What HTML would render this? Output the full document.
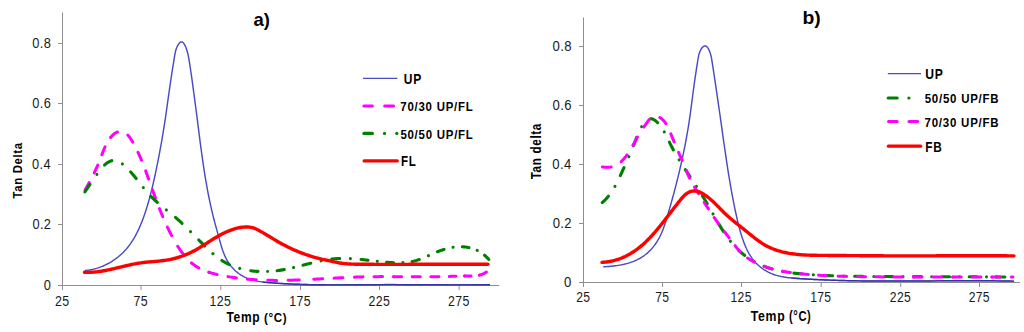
<!DOCTYPE html>
<html><head><meta charset="utf-8"><style>
html,body{margin:0;padding:0;background:#fff;width:1024px;height:332px;overflow:hidden}
svg{display:block}
</style></head><body>
<svg width="1024" height="332" viewBox="0 0 1024 332">
<path d="M62.5,12.5 V285.5 H499.2" fill="none" stroke="#8E8E8E" stroke-width="1"/>
<path d="M58.0,285.5 H62.5" stroke="#8E8E8E" stroke-width="1"/>
<path d="M58.0,224.5 H62.5" stroke="#8E8E8E" stroke-width="1"/>
<path d="M58.0,164.5 H62.5" stroke="#8E8E8E" stroke-width="1"/>
<path d="M58.0,103.5 H62.5" stroke="#8E8E8E" stroke-width="1"/>
<path d="M58.0,43.5 H62.5" stroke="#8E8E8E" stroke-width="1"/>
<path d="M62.5,285.5 V290.0" stroke="#8E8E8E" stroke-width="1"/>
<path d="M141.0,285.5 V290.0" stroke="#8E8E8E" stroke-width="1"/>
<path d="M220.8,285.5 V290.0" stroke="#8E8E8E" stroke-width="1"/>
<path d="M300.5,285.5 V290.0" stroke="#8E8E8E" stroke-width="1"/>
<path d="M379.5,285.5 V290.0" stroke="#8E8E8E" stroke-width="1"/>
<path d="M459.1,285.5 V290.0" stroke="#8E8E8E" stroke-width="1"/>
<path d="M583.5,17.5 V282.5 H1020.0" fill="none" stroke="#8E8E8E" stroke-width="1"/>
<path d="M579.0,282.5 H583.5" stroke="#8E8E8E" stroke-width="1"/>
<path d="M579.0,223.5 H583.5" stroke="#8E8E8E" stroke-width="1"/>
<path d="M579.0,164.5 H583.5" stroke="#8E8E8E" stroke-width="1"/>
<path d="M579.0,105.5 H583.5" stroke="#8E8E8E" stroke-width="1"/>
<path d="M579.0,46.5 H583.5" stroke="#8E8E8E" stroke-width="1"/>
<path d="M583.5,282.5 V287.0" stroke="#8E8E8E" stroke-width="1"/>
<path d="M662.5,282.5 V287.0" stroke="#8E8E8E" stroke-width="1"/>
<path d="M741.5,282.5 V287.0" stroke="#8E8E8E" stroke-width="1"/>
<path d="M821.2,282.5 V287.0" stroke="#8E8E8E" stroke-width="1"/>
<path d="M900.7,282.5 V287.0" stroke="#8E8E8E" stroke-width="1"/>
<path d="M979.5,282.5 V287.0" stroke="#8E8E8E" stroke-width="1"/>
<path d="M84.82,270.59 L86.32,270.45 L87.81,270.26 L89.29,270.04 L90.78,269.77 L92.25,269.47 L93.71,269.12 L95.17,268.74 L96.61,268.33 L98.05,267.88 L99.47,267.39 L100.88,266.87 L102.28,266.31 L103.66,265.72 L105.03,265.10 L106.39,264.45 L107.72,263.76 L109.05,263.05 L110.35,262.30 L111.64,261.52 L112.91,260.71 L114.16,259.88 L115.39,259.01 L116.60,258.12 L117.79,257.20 L118.95,256.25 L120.10,255.27 L121.22,254.27 L122.32,253.24 L123.39,252.19 L124.43,251.11 L125.45,250.00 L126.45,248.87 L127.41,247.72 L128.35,246.55 L129.27,245.35 L130.16,244.14 L131.02,242.91 L131.86,241.66 L132.68,240.40 L133.47,239.12 L134.24,237.83 L134.98,236.52 L135.71,235.20 L136.41,233.88 L137.10,232.54 L137.77,231.19 L138.41,229.83 L139.04,228.47 L139.66,227.09 L140.25,225.71 L140.84,224.32 L141.40,222.93 L141.96,221.53 L142.50,220.13 L143.02,218.72 L143.54,217.31 L144.05,215.89 L144.54,214.47 L145.03,213.05 L145.50,211.62 L145.97,210.19 L146.43,208.76 L146.88,207.33 L147.32,205.89 L147.75,204.45 L148.17,203.00 L148.59,201.56 L149.00,200.11 L149.40,198.66 L149.79,197.21 L150.18,195.76 L150.56,194.30 L150.94,192.85 L151.30,191.39 L151.67,189.93 L152.02,188.47 L152.37,187.00 L152.72,185.54 L153.06,184.08 L153.40,182.61 L153.73,181.14 L154.06,179.68 L154.39,178.21 L154.71,176.74 L155.03,175.27 L155.34,173.80 L155.66,172.33 L155.97,170.86 L156.28,169.38 L156.58,167.91 L156.88,166.44 L157.18,164.97 L157.48,163.49 L157.78,162.02 L158.07,160.54 L158.36,159.07 L158.65,157.59 L158.93,156.11 L159.21,154.64 L159.49,153.16 L159.77,151.68 L160.04,150.20 L160.32,148.72 L160.59,147.24 L160.85,145.76 L161.12,144.28 L161.38,142.80 L161.64,141.32 L161.90,139.84 L162.15,138.35 L162.40,136.87 L162.65,135.39 L162.90,133.91 L163.14,132.42 L163.39,130.94 L163.63,129.45 L163.86,127.97 L164.10,126.48 L164.33,125.00 L164.56,123.51 L164.79,122.02 L165.02,120.54 L165.24,119.05 L165.46,117.56 L165.68,116.07 L165.90,114.59 L166.11,113.10 L166.33,111.61 L166.54,110.12 L166.75,108.63 L166.96,107.14 L167.17,105.65 L167.38,104.16 L167.59,102.67 L167.79,101.18 L168.00,99.69 L168.21,98.21 L168.42,96.72 L168.63,95.23 L168.83,93.74 L169.04,92.25 L169.25,90.76 L169.47,89.27 L169.68,87.78 L169.89,86.29 L170.11,84.80 L170.33,83.32 L170.54,81.83 L170.77,80.34 L170.99,78.85 L171.22,77.37 L171.44,75.88 L171.68,74.39 L171.91,72.91 L172.14,71.42 L172.38,69.94 L172.61,68.45 L172.85,66.97 L173.09,65.48 L173.33,64.00 L173.56,62.51 L173.80,61.03 L174.03,59.54 L174.26,58.05 L174.50,56.57 L174.74,55.08 L175.02,53.61 L175.33,52.13 L175.69,50.68 L176.12,49.23 L176.63,47.82 L177.24,46.44 L177.95,45.12 L178.77,43.86 L179.75,42.72 L180.99,41.89 L182.43,42.08 L183.55,43.08 L184.40,44.32 L185.10,45.65 L185.72,47.02 L186.26,48.42 L186.76,49.84 L187.20,51.28 L187.60,52.73 L187.95,54.19 L188.26,55.66 L188.55,57.14 L188.81,58.62 L189.07,60.10 L189.32,61.58 L189.56,63.07 L189.80,64.55 L190.03,66.04 L190.26,67.52 L190.48,69.01 L190.70,70.50 L190.92,71.99 L191.13,73.48 L191.34,74.96 L191.55,76.45 L191.76,77.94 L191.97,79.43 L192.17,80.92 L192.38,82.41 L192.58,83.90 L192.79,85.39 L192.99,86.88 L193.19,88.37 L193.40,89.86 L193.60,91.35 L193.80,92.84 L194.00,94.33 L194.20,95.83 L194.40,97.32 L194.60,98.81 L194.79,100.30 L194.99,101.79 L195.19,103.28 L195.38,104.77 L195.58,106.26 L195.77,107.75 L195.97,109.24 L196.16,110.74 L196.35,112.23 L196.55,113.72 L196.74,115.21 L196.93,116.70 L197.12,118.19 L197.31,119.69 L197.50,121.18 L197.69,122.67 L197.88,124.16 L198.07,125.65 L198.26,127.15 L198.45,128.64 L198.64,130.13 L198.83,131.62 L199.02,133.11 L199.21,134.60 L199.40,136.10 L199.59,137.59 L199.79,139.08 L199.98,140.57 L200.17,142.06 L200.37,143.55 L200.56,145.05 L200.76,146.54 L200.96,148.03 L201.16,149.52 L201.36,151.01 L201.56,152.50 L201.77,153.99 L201.97,155.48 L202.18,156.97 L202.39,158.46 L202.60,159.95 L202.82,161.43 L203.04,162.92 L203.25,164.41 L203.48,165.90 L203.70,167.38 L203.93,168.87 L204.16,170.36 L204.39,171.84 L204.62,173.33 L204.86,174.81 L205.10,176.30 L205.35,177.78 L205.59,179.27 L205.84,180.75 L206.10,182.23 L206.36,183.71 L206.62,185.19 L206.88,186.67 L207.15,188.15 L207.43,189.63 L207.70,191.11 L207.99,192.59 L208.27,194.06 L208.56,195.54 L208.86,197.01 L209.16,198.49 L209.46,199.96 L209.77,201.43 L210.08,202.90 L210.40,204.37 L210.73,205.84 L211.05,207.31 L211.39,208.78 L211.73,210.24 L212.07,211.71 L212.42,213.17 L212.78,214.63 L213.14,216.09 L213.51,217.55 L213.88,219.00 L214.26,220.46 L214.64,221.91 L215.03,223.37 L215.42,224.82 L215.81,226.27 L216.20,227.72 L216.60,229.17 L217.00,230.62 L217.40,232.07 L217.80,233.52 L218.20,234.97 L218.60,236.42 L219.00,237.87 L219.40,239.32 L219.80,240.77 L220.20,242.22 L220.61,243.67 L221.03,245.11 L221.47,246.55 L221.91,247.99 L222.38,249.42 L222.86,250.84 L223.38,252.26 L223.92,253.66 L224.49,255.05 L225.09,256.43 L225.73,257.79 L226.41,259.13 L227.13,260.45 L227.90,261.74 L228.71,263.01 L229.57,264.25 L230.47,265.45 L231.42,266.62 L232.40,267.75 L233.43,268.85 L234.49,269.92 L235.59,270.94 L236.73,271.93 L237.90,272.87 L239.10,273.78 L240.33,274.64 L241.60,275.45 L242.89,276.22 L244.21,276.93 L245.56,277.60 L246.94,278.21 L248.33,278.77 L249.75,279.28 L251.18,279.73 L252.63,280.15 L254.08,280.52 L255.55,280.85 L257.03,281.15 L258.51,281.41 L259.99,281.64 L261.48,281.85 L262.97,282.04 L264.47,282.21 L265.96,282.36 L267.46,282.50 L268.96,282.63 L270.46,282.75 L271.96,282.87 L273.46,282.98 L274.96,283.09 L276.46,283.20 L277.96,283.30 L279.46,283.40 L280.96,283.49 L282.46,283.58 L283.96,283.67 L285.46,283.75 L286.97,283.83 L288.47,283.91 L289.97,283.98 L291.47,284.05 L292.98,284.12 L294.48,284.18 L295.98,284.24 L297.48,284.29 L298.99,284.34 L300.49,284.39 L301.99,284.44 L303.50,284.48 L305.00,284.53 L306.50,284.56 L308.01,284.60 L309.51,284.63 L311.01,284.66 L312.52,284.69 L314.02,284.72 L315.53,284.74 L317.03,284.76 L318.53,284.78 L320.04,284.80 L321.54,284.81 L323.04,284.83 L324.55,284.84 L326.05,284.85 L327.56,284.85 L329.06,284.86 L330.56,284.87 L332.07,284.87 L333.57,284.87 L335.08,284.87 L336.58,284.87 L338.08,284.87 L339.59,284.86 L341.09,284.86 L342.60,284.86 L344.10,284.85 L345.60,284.84 L347.11,284.84 L348.61,284.83 L350.11,284.82 L351.62,284.81 L353.12,284.80 L354.63,284.79 L356.13,284.78 L357.63,284.77 L359.14,284.76 L360.64,284.75 L362.15,284.74 L363.65,284.72 L365.15,284.71 L366.66,284.70 L368.16,284.69 L369.67,284.68 L371.17,284.67 L372.67,284.67 L374.18,284.66 L375.68,284.65 L377.19,284.64 L378.69,284.64 L380.19,284.63 L381.70,284.63 L383.20,284.63 L384.70,284.62 L386.21,284.62 L387.71,284.62 L389.22,284.62 L390.72,284.62 L392.22,284.62 L393.73,284.62 L395.23,284.62 L396.74,284.63 L398.24,284.63 L399.74,284.63 L401.25,284.64 L402.75,284.64 L404.26,284.65 L405.76,284.65 L407.26,284.66 L408.77,284.67 L410.27,284.67 L411.78,284.68 L413.28,284.69 L414.78,284.69 L416.29,284.70 L417.79,284.71 L419.29,284.72 L420.80,284.73 L422.30,284.73 L423.81,284.74 L425.31,284.75 L426.81,284.76 L428.32,284.76 L429.82,284.77 L431.33,284.78 L432.83,284.79 L434.33,284.80 L435.84,284.80 L437.34,284.81 L438.85,284.82 L440.35,284.82 L441.85,284.83 L443.36,284.83 L444.86,284.84 L446.37,284.84 L447.87,284.85 L449.37,284.85 L450.88,284.86 L452.38,284.86 L453.89,284.86 L455.39,284.86 L456.89,284.87 L458.40,284.87 L459.90,284.87 L461.40,284.87 L462.91,284.86 L464.41,284.86 L465.92,284.86 L467.42,284.86 L468.92,284.85 L470.43,284.85 L471.93,284.84 L473.44,284.83 L474.94,284.82 L476.44,284.81 L477.95,284.80 L479.45,284.79 L480.96,284.78 L482.46,284.77 L483.96,284.75 L485.47,284.74 L486.97,284.72 L488.47,284.70 L489.98,284.68" fill="none" stroke="#4A4AC6" stroke-width="1.45" stroke-linejoin="round"/>
<path d="M262.97,282.04 L264.47,282.21 L265.96,282.36 L267.46,282.50 L268.96,282.63 L270.46,282.75 L271.96,282.87 L273.46,282.98 L274.96,283.09 L276.46,283.20 L277.96,283.30 L279.46,283.40 L280.96,283.49 L282.46,283.58 L283.96,283.67 L285.46,283.75 L286.97,283.83 L288.47,283.91 L289.97,283.98 L291.47,284.05 L292.98,284.12 L294.48,284.18 L295.98,284.24 L297.48,284.29 L298.99,284.34 L300.49,284.39 L301.99,284.44 L303.50,284.48 L305.00,284.53 L306.50,284.56 L308.01,284.60 L309.51,284.63 L311.01,284.66 L312.52,284.69 L314.02,284.72 L315.53,284.74 L317.03,284.76 L318.53,284.78 L320.04,284.80 L321.54,284.81 L323.04,284.83 L324.55,284.84 L326.05,284.85 L327.56,284.85 L329.06,284.86 L330.56,284.87 L332.07,284.87 L333.57,284.87 L335.08,284.87 L336.58,284.87 L338.08,284.87 L339.59,284.86 L341.09,284.86 L342.60,284.86 L344.10,284.85 L345.60,284.84 L347.11,284.84 L348.61,284.83 L350.11,284.82 L351.62,284.81 L353.12,284.80 L354.63,284.79 L356.13,284.78 L357.63,284.77 L359.14,284.76 L360.64,284.75 L362.15,284.74 L363.65,284.72 L365.15,284.71 L366.66,284.70 L368.16,284.69 L369.67,284.68 L371.17,284.67 L372.67,284.67 L374.18,284.66 L375.68,284.65 L377.19,284.64 L378.69,284.64 L380.19,284.63 L381.70,284.63 L383.20,284.63 L384.70,284.62 L386.21,284.62 L387.71,284.62 L389.22,284.62 L390.72,284.62 L392.22,284.62 L393.73,284.62 L395.23,284.62 L396.74,284.63 L398.24,284.63 L399.74,284.63 L401.25,284.64 L402.75,284.64 L404.26,284.65 L405.76,284.65 L407.26,284.66 L408.77,284.67 L410.27,284.67 L411.78,284.68 L413.28,284.69 L414.78,284.69 L416.29,284.70 L417.79,284.71 L419.29,284.72 L420.80,284.73 L422.30,284.73 L423.81,284.74 L425.31,284.75 L426.81,284.76 L428.32,284.76 L429.82,284.77 L431.33,284.78 L432.83,284.79 L434.33,284.80 L435.84,284.80 L437.34,284.81 L438.85,284.82 L440.35,284.82 L441.85,284.83 L443.36,284.83 L444.86,284.84 L446.37,284.84 L447.87,284.85 L449.37,284.85 L450.88,284.86 L452.38,284.86 L453.89,284.86 L455.39,284.86 L456.89,284.87 L458.40,284.87 L459.90,284.87 L461.40,284.87 L462.91,284.86 L464.41,284.86 L465.92,284.86 L467.42,284.86 L468.92,284.85 L470.43,284.85 L471.93,284.84 L473.44,284.83 L474.94,284.82 L476.44,284.81 L477.95,284.80 L479.45,284.79 L480.96,284.78 L482.46,284.77 L483.96,284.75 L485.47,284.74 L486.97,284.72 L488.47,284.70 L489.98,284.68" fill="none" stroke="#2B2BA6" stroke-width="1.50" stroke-opacity="0.75"/>
<path d="M85.06,190.16 L85.79,188.84 L86.51,187.52 L87.24,186.20 L87.96,184.87 L88.68,183.55 L89.40,182.22 L90.11,180.89 L90.81,179.55 L91.51,178.22 L92.20,176.88 L92.89,175.53 L93.56,174.18 L94.23,172.83 L94.89,171.47 L95.53,170.11 L96.17,168.74 L96.79,167.37 L97.40,165.99 L98.00,164.60 L98.59,163.21 L99.16,161.82 L99.72,160.42 L100.26,159.01 L100.79,157.60 L101.32,156.19 L101.85,154.77 L102.38,153.36 L102.92,151.95 L103.48,150.55 L104.05,149.16 L104.65,147.77 L105.28,146.40 L105.93,145.04 L106.62,143.70 L107.35,142.38 L108.12,141.08 L108.93,139.81 L109.79,138.57 L110.71,137.37" fill="none" stroke="#FF00FF" stroke-width="3" stroke-linecap="round" stroke-linejoin="round" stroke-dasharray="8.55 11.06" stroke-dashoffset="0.00"/>
<path d="M110.71,137.37 L111.68,136.22 L112.72,135.13 L113.84,134.12 L115.05,133.22 L116.36,132.46 L117.75,131.90 L119.22,131.57 L120.73,131.50 L122.22,131.68 L123.67,132.12 L125.02,132.78 L126.26,133.63 L127.39,134.63 L128.42,135.74 L129.36,136.91 L130.24,138.14 L131.07,139.40 L131.86,140.68 L132.62,141.98 L133.37,143.29 L134.10,144.62 L134.81,145.94 L135.51,147.28 L136.20,148.62 L136.87,149.98 L137.53,151.33 L138.17,152.70 L138.80,154.06 L139.43,155.44 L140.04,156.82 L140.63,158.20 L141.22,159.59 L141.80,160.99 L142.37,162.38 L142.93,163.78 L143.48,165.19 L144.03,166.59 L144.57,168.00 L145.10,169.41 L145.63,170.83 L146.15,172.24 L146.67,173.66 L147.18,175.08 L147.70,176.49 L148.21,177.91 L148.72,179.33 L149.23,180.75 L149.74,182.17 L150.24,183.59 L150.75,185.01 L151.26,186.43 L151.77,187.85 L152.28,189.27 L152.79,190.69 L153.30,192.11 L153.82,193.53 L154.33,194.95 L154.85,196.36 L155.37,197.78 L155.89,199.19 L156.42,200.61 L156.95,202.02 L157.48,203.43 L158.02,204.84 L158.56,206.25 L159.11,207.65 L159.66,209.06 L160.22,210.46 L160.78,211.86 L161.35,213.26 L161.92,214.65 L162.50,216.04 L163.09,217.43 L163.68,218.82 L164.28,220.20 L164.89,221.58 L165.51,222.96 L166.13,224.34 L166.76,225.71 L167.40,227.07" fill="none" stroke="#FF00FF" stroke-width="3" stroke-linecap="round" stroke-linejoin="round" stroke-dasharray="8.77 11.34" stroke-dashoffset="0.00"/>
<path d="M167.40,227.07 L168.05,228.43 L168.70,229.79 L169.37,231.15 L170.04,232.50 L170.73,233.84 L171.42,235.18 L172.12,236.52 L172.83,237.85 L173.56,239.17 L174.29,240.49 L175.03,241.80 L175.79,243.10 L176.56,244.40 L177.35,245.69 L178.15,246.96 L178.97,248.23 L179.81,249.48 L180.67,250.73 L181.55,251.95 L182.45,253.16 L183.37,254.36 L184.31,255.53 L185.29,256.68 L186.28,257.82 L187.31,258.92 L188.36,260.00 L189.44,261.05 L190.55,262.08 L191.69,263.06" fill="none" stroke="#FF00FF" stroke-width="3" stroke-linecap="round" stroke-linejoin="round" stroke-dasharray="9.53 12.34" stroke-dashoffset="0.00"/>
<path d="M191.69,263.06 L192.86,264.01 L194.06,264.93 L195.29,265.80 L196.56,266.63 L197.85,267.41 L199.16,268.15 L200.50,268.84 L201.86,269.49 L203.24,270.11 L204.63,270.69 L206.04,271.23 L207.46,271.74 L208.89,272.22" fill="none" stroke="#FF00FF" stroke-width="3" stroke-linecap="round" stroke-linejoin="round" stroke-dasharray="8.55 11.06" stroke-dashoffset="0.00"/>
<path d="M208.89,272.22 L210.33,272.67 L211.77,273.10 L213.23,273.50 L214.69,273.88 L216.15,274.24 L217.62,274.59 L219.09,274.91 L220.57,275.23 L222.05,275.53 L223.53,275.82 L225.01,276.10 L226.49,276.37 L227.98,276.63 L229.47,276.88 L230.95,277.12 L232.45,277.35 L233.94,277.57 L235.43,277.78 L236.93,277.98 L238.42,278.17 L239.92,278.36 L241.42,278.53 L242.92,278.70 L244.42,278.85 L245.92,279.00 L247.42,279.14" fill="none" stroke="#FF00FF" stroke-width="3" stroke-linecap="round" stroke-linejoin="round" stroke-dasharray="8.55 11.06" stroke-dashoffset="0.00"/>
<path d="M247.42,279.14 L248.92,279.27 L250.43,279.40 L251.93,279.51 L253.44,279.62 L254.94,279.72 L256.45,279.81 L257.95,279.90 L259.46,279.97 L260.97,280.04 L262.47,280.11 L263.98,280.16 L265.49,280.21 L266.99,280.26 L268.50,280.29 L270.01,280.33 L271.52,280.35 L273.03,280.37 L274.54,280.38 L276.04,280.39 L277.55,280.39 L279.06,280.39 L280.57,280.38 L282.08,280.37 L283.59,280.36 L285.09,280.33 L286.60,280.31 L288.11,280.28" fill="none" stroke="#FF00FF" stroke-width="3" stroke-linecap="round" stroke-linejoin="round" stroke-dasharray="8.88 11.49" stroke-dashoffset="0.00"/>
<path d="M288.11,280.28 L289.62,280.24 L291.13,280.20 L292.63,280.16 L294.14,280.12 L295.65,280.07 L297.16,280.01 L298.66,279.96 L300.17,279.90 L301.68,279.84 L303.19,279.78 L304.69,279.71 L306.20,279.64 L307.71,279.57 L309.21,279.50 L310.72,279.42 L312.23,279.34 L313.73,279.27" fill="none" stroke="#FF00FF" stroke-width="3" stroke-linecap="round" stroke-linejoin="round" stroke-dasharray="11.18 14.47" stroke-dashoffset="0.00"/>
<path d="M313.73,279.27 L315.24,279.19 L316.75,279.11 L318.25,279.02 L319.76,278.94 L321.26,278.86 L322.77,278.77 L324.28,278.69 L325.78,278.60 L327.29,278.52 L328.79,278.43 L330.30,278.35 L331.81,278.27 L333.31,278.18 L334.82,278.10 L336.32,278.02 L337.83,277.93 L339.34,277.85 L340.84,277.77 L342.35,277.70 L343.86,277.62 L345.36,277.55 L346.87,277.47 L348.38,277.40 L349.88,277.34 L351.39,277.27 L352.90,277.21 L354.40,277.15" fill="none" stroke="#FF00FF" stroke-width="3" stroke-linecap="round" stroke-linejoin="round" stroke-dasharray="8.88 11.49" stroke-dashoffset="0.00"/>
<path d="M354.40,277.15 L355.91,277.09 L357.42,277.04 L358.93,276.98 L360.43,276.94 L361.94,276.89 L363.45,276.85 L364.96,276.81 L366.47,276.78 L367.97,276.75 L369.48,276.72 L370.99,276.70 L372.50,276.68 L374.01,276.66 L375.52,276.65 L377.02,276.64 L378.53,276.63 L380.04,276.62 L381.55,276.61 L383.06,276.61 L384.57,276.61 L386.07,276.61 L387.58,276.61 L389.09,276.62 L390.60,276.62 L392.11,276.63 L393.62,276.63" fill="none" stroke="#FF00FF" stroke-width="3" stroke-linecap="round" stroke-linejoin="round" stroke-dasharray="8.55 11.06" stroke-dashoffset="0.00"/>
<path d="M393.62,276.63 L395.13,276.64 L396.63,276.65 L398.14,276.66 L399.65,276.67 L401.16,276.68 L402.67,276.69 L404.18,276.70 L405.68,276.71 L407.19,276.72 L408.70,276.73 L410.21,276.74 L411.72,276.75 L413.23,276.76 L414.73,276.77 L416.24,276.77 L417.75,276.78 L419.26,276.78 L420.77,276.78 L422.28,276.78 L423.78,276.78 L425.29,276.77 L426.80,276.77 L428.31,276.76 L429.82,276.75 L431.33,276.74 L432.84,276.72 L434.34,276.70 L435.85,276.68 L437.36,276.65 L438.87,276.63 L440.38,276.60 L441.88,276.57 L443.39,276.53 L444.90,276.50 L446.41,276.46 L447.92,276.43 L449.42,276.39" fill="none" stroke="#FF00FF" stroke-width="3" stroke-linecap="round" stroke-linejoin="round" stroke-dasharray="8.11 10.49" stroke-dashoffset="0.00"/>
<path d="M449.42,276.39 L450.93,276.36 L452.44,276.32 L453.95,276.28 L455.46,276.25 L456.96,276.22 L458.47,276.18 L459.98,276.15 L461.49,276.13 L463.00,276.10 L464.51,276.08" fill="none" stroke="#FF00FF" stroke-width="3" stroke-linecap="round" stroke-linejoin="round" stroke-dasharray="6.58 8.51" stroke-dashoffset="0.00"/>
<path d="M464.51,276.08 L466.01,276.06 L467.52,276.04 L469.03,276.03 L470.54,276.01 L472.05,275.97 L473.55,275.91 L475.06,275.80 L476.56,275.64 L478.05,275.41 L479.53,275.11" fill="none" stroke="#FF00FF" stroke-width="3" stroke-linecap="round" stroke-linejoin="round" stroke-dasharray="6.57 8.51" stroke-dashoffset="0.00"/>
<path d="M479.53,275.11 L480.98,274.71 L482.41,274.22 L483.79,273.63 L485.13,272.93 L486.41,272.14" fill="none" stroke="#FF00FF" stroke-width="3" stroke-linecap="round" stroke-linejoin="round" stroke-dasharray="8.50 11.00" stroke-dashoffset="0.00"/>
<path d="M84.91,191.86 L85.74,190.60 L86.58,189.34 L87.42,188.10 L88.28,186.85 L89.14,185.61 L90.00,184.37 L90.87,183.14 L91.73,181.90 L92.60,180.67 L93.47,179.44 L94.34,178.20 L95.21,176.96 L96.07,175.73 L96.93,174.49 L97.79,173.25 L98.66,172.01 L99.55,170.79 L100.46,169.59 L101.40,168.41 L102.37,167.26 L103.39,166.15 L104.47,165.09" fill="none" stroke="#008000" stroke-width="3.1" stroke-linecap="round" stroke-linejoin="round" stroke-dasharray="9.07 12.06 0.01 12.06" stroke-dashoffset="0.00"/>
<path d="M104.47,165.09 L105.60,164.08 L106.78,163.15 L108.04,162.31 L109.35,161.58 L110.74,160.98 L112.19,160.56 L113.68,160.35 L115.19,160.40 L116.66,160.71 L118.08,161.23 L119.43,161.90 L120.71,162.69 L121.94,163.57 L123.12,164.51 L124.27,165.49 L125.38,166.51 L126.47,167.55 L127.54,168.62 L128.59,169.70 L129.62,170.81 L130.63,171.92 L131.63,173.05 L132.62,174.20 L133.59,175.35 L134.55,176.52 L135.50,177.69 L136.44,178.87 L137.38,180.05 L138.31,181.24 L139.24,182.42 L140.17,183.61 L141.10,184.80 L142.04,185.99 L142.97,187.17 L143.92,188.34 L144.87,189.51 L145.84,190.68 L146.81,191.83 L147.80,192.96 L148.81,194.09 L149.83,195.20 L150.87,196.29" fill="none" stroke="#008000" stroke-width="3.1" stroke-linecap="round" stroke-linejoin="round" stroke-dasharray="8.66 11.51 0.01 11.51" stroke-dashoffset="0.00"/>
<path d="M150.87,196.29 L151.93,197.37 L153.01,198.43 L154.10,199.47 L155.21,200.50 L156.32,201.51 L157.45,202.51 L158.59,203.50 L159.74,204.48 L160.89,205.46 L162.05,206.42 L163.21,207.38 L164.38,208.34 L165.55,209.29 L166.73,210.24 L167.90,211.19 L169.07,212.14 L170.24,213.09 L171.41,214.05 L172.57,215.01 L173.73,215.98 L174.88,216.95 L176.02,217.94 L177.16,218.93 L178.29,219.93 L179.42,220.94 L180.53,221.95 L181.64,222.97 L182.75,224.00 L183.84,225.04 L184.94,226.08 L186.03,227.12 L187.11,228.18 L188.19,229.23 L189.26,230.29 L190.33,231.36 L191.40,232.42 L192.46,233.49 L193.52,234.57 L194.58,235.64 L195.63,236.72 L196.69,237.80 L197.74,238.88 L198.79,239.97" fill="none" stroke="#008000" stroke-width="3.1" stroke-linecap="round" stroke-linejoin="round" stroke-dasharray="8.86 11.79 0.01 11.79" stroke-dashoffset="0.00"/>
<path d="M198.79,239.97 L199.84,241.05 L200.89,242.13 L201.95,243.21 L203.00,244.29 L204.06,245.36 L205.13,246.43 L206.20,247.49 L207.28,248.55 L208.37,249.59 L209.47,250.63 L210.58,251.65 L211.70,252.66 L212.83,253.66 L213.98,254.64 L215.14,255.60 L216.32,256.54 L217.52,257.46 L218.73,258.36 L219.97,259.23 L221.22,260.07 L222.49,260.88 L223.78,261.66 L225.09,262.41 L226.42,263.13 L227.76,263.82 L229.12,264.48 L230.49,265.10 L231.88,265.70 L233.28,266.26 L234.69,266.79 L236.11,267.30 L237.55,267.77 L238.99,268.21 L240.44,268.63 L241.90,269.01 L243.37,269.37 L244.84,269.69 L246.32,269.99 L247.80,270.27 L249.29,270.51 L250.79,270.73" fill="none" stroke="#008000" stroke-width="3.1" stroke-linecap="round" stroke-linejoin="round" stroke-dasharray="8.45 11.24 0.01 11.24" stroke-dashoffset="0.00"/>
<path d="M250.79,270.73 L252.28,270.93 L253.78,271.09 L255.28,271.24 L256.79,271.35 L258.29,271.44 L259.80,271.51 L261.31,271.56 L262.82,271.58 L264.33,271.58 L265.84,271.55 L267.35,271.51 L268.85,271.44 L270.36,271.35 L271.86,271.24 L273.37,271.10 L274.87,270.95 L276.37,270.78 L277.86,270.58 L279.36,270.37 L280.85,270.14 L282.34,269.89 L283.82,269.62 L285.31,269.34 L286.79,269.05 L288.26,268.74 L289.74,268.43 L291.21,268.10 L292.68,267.76 L294.15,267.41 L295.62,267.06 L297.09,266.70 L298.55,266.34 L300.01,265.97 L301.48,265.60 L302.94,265.22" fill="none" stroke="#008000" stroke-width="3.1" stroke-linecap="round" stroke-linejoin="round" stroke-dasharray="7.22 9.59 0.01 9.59" stroke-dashoffset="0.00"/>
<path d="M302.94,265.22 L304.40,264.85 L305.86,264.47 L307.32,264.10 L308.79,263.73 L310.25,263.36 L311.72,263.00 L313.18,262.64 L314.65,262.29 L316.12,261.95 L317.59,261.61 L319.06,261.29 L320.54,260.98 L322.02,260.68 L323.50,260.39 L324.99,260.12 L326.47,259.86 L327.96,259.62 L329.46,259.40 L330.95,259.20 L332.45,259.02 L333.95,258.87 L335.45,258.73 L336.96,258.62 L338.47,258.54 L339.97,258.48 L341.48,258.44 L342.99,258.43 L344.50,258.43 L346.01,258.45 L347.52,258.49 L349.03,258.55 L350.53,258.62 L352.04,258.71 L353.55,258.81 L355.05,258.92 L356.55,259.05 L358.06,259.18 L359.56,259.32 L361.06,259.47" fill="none" stroke="#008000" stroke-width="3.1" stroke-linecap="round" stroke-linejoin="round" stroke-dasharray="8.04 10.69 0.01 10.69" stroke-dashoffset="0.00"/>
<path d="M361.06,259.47 L362.56,259.63 L364.06,259.79 L365.56,259.96 L367.06,260.13 L368.56,260.31 L370.06,260.48 L371.56,260.66 L373.06,260.83 L374.56,261.01 L376.06,261.18 L377.55,261.35 L379.05,261.51 L380.56,261.67 L382.06,261.83 L383.56,261.97 L385.06,262.11 L386.57,262.24 L388.07,262.35 L389.58,262.46 L391.08,262.55 L392.59,262.63 L394.10,262.70 L395.60,262.74 L397.11,262.76 L398.62,262.77 L400.13,262.74 L401.64,262.70 L403.15,262.62 L404.65,262.52 L406.16,262.38 L407.66,262.21 L409.15,262.01 L410.64,261.77 L412.12,261.49" fill="none" stroke="#008000" stroke-width="3.1" stroke-linecap="round" stroke-linejoin="round" stroke-dasharray="7.01 9.32 0.01 9.32" stroke-dashoffset="0.00"/>
<path d="M412.12,261.49 L413.60,261.16 L415.06,260.80 L416.51,260.39 L417.95,259.93 L419.38,259.45 L420.80,258.93 L422.20,258.38 L423.60,257.81 L424.99,257.22 L426.37,256.62 L427.75,256.01 L429.13,255.39 L430.51,254.77 L431.88,254.15 L433.26,253.53 L434.64,252.93 L436.03,252.33 L437.42,251.76" fill="none" stroke="#008000" stroke-width="3.1" stroke-linecap="round" stroke-linejoin="round" stroke-dasharray="7.42 9.87 0.01 9.87" stroke-dashoffset="0.00"/>
<path d="M437.42,251.76 L438.83,251.20 L440.24,250.67 L441.66,250.17 L443.09,249.69 L444.54,249.25 L445.99,248.83 L447.45,248.45 L448.92,248.10 L450.39,247.79 L451.88,247.51 L453.37,247.28 L454.86,247.08 L456.36,246.93 L457.87,246.82 L459.38,246.76 L460.89,246.75 L462.39,246.78" fill="none" stroke="#008000" stroke-width="3.1" stroke-linecap="round" stroke-linejoin="round" stroke-dasharray="7.01 9.32 0.01 9.32" stroke-dashoffset="0.00"/>
<path d="M462.39,246.78 L463.90,246.87 L465.40,247.02 L466.90,247.22 L468.38,247.48 L469.86,247.80 L471.32,248.18 L472.76,248.62 L474.19,249.12 L475.59,249.68 L476.96,250.30 L478.31,250.98 L479.62,251.72 L480.91,252.52 L482.15,253.37 L483.36,254.27 L484.53,255.22" fill="none" stroke="#008000" stroke-width="3.1" stroke-linecap="round" stroke-linejoin="round" stroke-dasharray="6.60 8.77 0.01 8.77" stroke-dashoffset="0.00"/>
<path d="M484.53,255.22 L485.67,256.22 L486.76,257.26 L487.81,258.34 L488.82,259.46" fill="none" stroke="#008000" stroke-width="3.1" stroke-linecap="round" stroke-linejoin="round" stroke-dasharray="8.50 11.30 0.01 11.30" stroke-dashoffset="0.00"/>
<path d="M84.44,272.27 L85.95,272.33 L87.46,272.35 L88.97,272.35 L90.48,272.31 L91.99,272.23 L93.50,272.14 L95.00,272.01 L96.50,271.86 L98.00,271.68 L99.50,271.48 L101.00,271.26 L102.49,271.01 L103.97,270.76 L105.46,270.48 L106.94,270.19 L108.42,269.88 L109.90,269.57 L111.37,269.24 L112.85,268.90 L114.32,268.56 L115.79,268.21 L117.25,267.86 L118.72,267.50 L120.19,267.14 L121.66,266.78 L123.13,266.43 L124.59,266.08 L126.06,265.73 L127.54,265.39 L129.01,265.05 L130.48,264.73 L131.96,264.41 L133.44,264.11 L134.93,263.83 L136.41,263.55 L137.90,263.30 L139.39,263.06 L140.89,262.85 L142.39,262.65 L143.89,262.47 L145.39,262.31 L146.89,262.16 L148.39,262.02 L149.90,261.88 L151.40,261.75 L152.91,261.62 L154.41,261.49 L155.92,261.36 L157.42,261.22 L158.93,261.07 L160.43,260.91 L161.93,260.74 L163.43,260.56 L164.92,260.35 L166.42,260.12 L167.91,259.87 L169.39,259.60 L170.87,259.30 L172.35,258.97 L173.82,258.62 L175.28,258.24 L176.74,257.84 L178.19,257.42 L179.63,256.97 L181.06,256.50 L182.49,256.00 L183.90,255.47 L185.31,254.92 L186.71,254.35 L188.10,253.75 L189.47,253.13 L190.84,252.49 L192.19,251.82 L193.53,251.12 L194.86,250.40 L196.18,249.67 L197.49,248.91 L198.79,248.15 L200.09,247.36 L201.37,246.57 L202.65,245.77 L203.93,244.96 L205.20,244.15 L206.47,243.33 L207.74,242.52 L209.02,241.70 L210.29,240.89 L211.57,240.08 L212.85,239.28 L214.13,238.49 L215.43,237.71 L216.73,236.94 L218.03,236.19 L219.35,235.45 L220.68,234.73 L222.02,234.02 L223.36,233.34 L224.72,232.68 L226.09,232.05 L227.48,231.44 L228.87,230.86 L230.28,230.31 L231.70,229.79 L233.13,229.31 L234.57,228.86 L236.03,228.45 L237.49,228.09 L238.97,227.76 L240.45,227.48 L241.94,227.25 L243.44,227.08 L244.95,226.97 L246.46,226.93 L247.97,226.98 L249.47,227.12 L250.96,227.37 L252.43,227.72 L253.87,228.17 L255.29,228.70 L256.67,229.30 L258.03,229.96 L259.37,230.66 L260.70,231.39 L262.01,232.14 L263.31,232.90 L264.61,233.67 L265.91,234.44 L267.20,235.22 L268.50,236.00 L269.79,236.78 L271.08,237.56 L272.37,238.35 L273.67,239.12 L274.97,239.90 L276.27,240.67 L277.57,241.43 L278.88,242.19 L280.19,242.93 L281.51,243.67 L282.84,244.39 L284.17,245.10 L285.51,245.80 L286.86,246.48 L288.21,247.15 L289.57,247.82 L290.93,248.46 L292.30,249.10 L293.68,249.72 L295.06,250.33 L296.45,250.93 L297.84,251.51 L299.24,252.08 L300.65,252.64 L302.06,253.18 L303.47,253.71 L304.89,254.23 L306.31,254.73 L307.74,255.22 L309.18,255.69 L310.62,256.15 L312.06,256.60 L313.51,257.03 L314.96,257.44 L316.42,257.84 L317.88,258.23 L319.34,258.60 L320.81,258.96 L322.28,259.29 L323.76,259.62 L325.23,259.93 L326.71,260.24 L328.19,260.54 L329.67,260.85 L331.15,261.16 L332.63,261.48 L334.10,261.81 L335.58,262.14 L337.05,262.45 L338.53,262.75 L340.02,263.01 L341.52,263.24 L343.01,263.44 L344.51,263.61 L346.02,263.75 L347.52,263.87 L349.03,263.96 L350.54,264.04 L352.05,264.10 L353.56,264.14 L355.07,264.18 L356.58,264.20 L358.09,264.22 L359.60,264.23 L361.11,264.25 L362.62,264.26 L364.13,264.27 L365.64,264.28 L367.15,264.29 L368.66,264.30 L370.17,264.31 L371.68,264.31 L373.20,264.32 L374.71,264.33 L376.22,264.33 L377.73,264.34 L379.24,264.34 L380.75,264.34 L382.26,264.35 L383.77,264.35 L385.28,264.35 L386.79,264.35 L388.30,264.35 L389.81,264.35 L391.32,264.35 L392.83,264.35 L394.34,264.35 L395.85,264.35 L397.36,264.35 L398.87,264.35 L400.39,264.34 L401.90,264.34 L403.41,264.34 L404.92,264.33 L406.43,264.33 L407.94,264.33 L409.45,264.32 L410.96,264.32 L412.47,264.31 L413.98,264.31 L415.49,264.30 L417.00,264.30 L418.51,264.29 L420.02,264.29 L421.53,264.28 L423.04,264.28 L424.55,264.27 L426.06,264.27 L427.58,264.26 L429.09,264.25 L430.60,264.25 L432.11,264.24 L433.62,264.24 L435.13,264.23 L436.64,264.23 L438.15,264.22 L439.66,264.22 L441.17,264.21 L442.68,264.21 L444.19,264.21 L445.70,264.20 L447.21,264.20 L448.72,264.20 L450.23,264.19 L451.74,264.19 L453.25,264.19 L454.77,264.19 L456.28,264.18 L457.79,264.18 L459.30,264.18 L460.81,264.18 L462.32,264.18 L463.83,264.18 L465.34,264.18 L466.85,264.18 L468.36,264.19 L469.87,264.19 L471.38,264.19 L472.89,264.20 L474.40,264.20 L475.91,264.20 L477.42,264.21 L478.93,264.22 L480.44,264.22 L481.96,264.23 L483.47,264.24 L484.98,264.25 L486.49,264.26 L488.00,264.27" fill="none" stroke="#FF0000" stroke-width="3.4" stroke-linecap="round" stroke-linejoin="round"/>
<path d="M603.27,266.78 L604.77,266.71 L606.28,266.64 L607.78,266.54 L609.28,266.44 L610.78,266.31 L612.28,266.17 L613.77,266.01 L615.27,265.83 L616.76,265.62 L618.24,265.40 L619.73,265.15 L621.21,264.88 L622.68,264.58 L624.15,264.26 L625.61,263.90 L627.07,263.52 L628.51,263.11 L629.95,262.66 L631.38,262.18 L632.79,261.66 L634.19,261.11 L635.57,260.52 L636.94,259.89 L638.29,259.22 L639.61,258.51 L640.91,257.75 L642.19,256.95 L643.44,256.11 L644.65,255.23 L645.84,254.30 L647.00,253.34 L648.12,252.34 L649.21,251.31 L650.27,250.24 L651.30,249.14 L652.30,248.01 L653.26,246.86 L654.19,245.67 L655.09,244.47 L655.95,243.24 L656.79,241.98 L657.59,240.71 L658.35,239.41 L659.09,238.10 L659.79,236.77 L660.45,235.42 L661.09,234.06 L661.70,232.68 L662.29,231.30 L662.85,229.90 L663.38,228.49 L663.90,227.08 L664.40,225.66 L664.88,224.23 L665.34,222.80 L665.80,221.37 L666.24,219.93 L666.68,218.49 L667.11,217.05 L667.54,215.61 L667.96,214.17 L668.39,212.72 L668.81,211.28 L669.22,209.83 L669.64,208.39 L670.05,206.94 L670.47,205.49 L670.87,204.04 L671.28,202.60 L671.69,201.15 L672.09,199.70 L672.49,198.25 L672.88,196.79 L673.28,195.34 L673.67,193.89 L674.06,192.44 L674.45,190.98 L674.83,189.53 L675.21,188.07 L675.59,186.62 L675.97,185.16 L676.34,183.70 L676.71,182.24 L677.08,180.79 L677.44,179.33 L677.81,177.87 L678.17,176.40 L678.52,174.94 L678.87,173.48 L679.22,172.02 L679.57,170.55 L679.92,169.09 L680.26,167.62 L680.59,166.16 L680.93,164.69 L681.26,163.22 L681.59,161.75 L681.91,160.28 L682.24,158.81 L682.55,157.34 L682.87,155.87 L683.18,154.40 L683.49,152.93 L683.79,151.46 L684.09,149.98 L684.39,148.51 L684.69,147.03 L684.98,145.55 L685.26,144.08 L685.55,142.60 L685.83,141.12 L686.10,139.64 L686.38,138.16 L686.64,136.68 L686.91,135.20 L687.17,133.72 L687.43,132.24 L687.68,130.75 L687.93,129.27 L688.18,127.79 L688.42,126.30 L688.65,124.82 L688.89,123.33 L689.12,121.84 L689.34,120.35 L689.56,118.87 L689.78,117.38 L690.00,115.89 L690.21,114.40 L690.41,112.91 L690.62,111.42 L690.82,109.93 L691.02,108.43 L691.21,106.94 L691.41,105.45 L691.60,103.96 L691.80,102.47 L691.99,100.98 L692.18,99.48 L692.37,97.99 L692.57,96.50 L692.76,95.01 L692.95,93.51 L693.15,92.02 L693.34,90.53 L693.54,89.04 L693.74,87.55 L693.94,86.06 L694.14,84.57 L694.35,83.08 L694.56,81.59 L694.77,80.10 L694.99,78.61 L695.21,77.12 L695.43,75.63 L695.66,74.14 L695.89,72.66 L696.12,71.17 L696.35,69.68 L696.59,68.20 L696.82,66.71 L697.05,65.22 L697.28,63.74 L697.52,62.25 L697.74,60.76 L697.98,59.28 L698.23,57.79 L698.51,56.32 L698.84,54.85 L699.24,53.40 L699.73,51.98 L700.32,50.59 L701.03,49.27 L701.89,48.03 L702.89,46.91 L704.12,46.06 L705.59,45.91 L706.86,46.69 L707.82,47.84 L708.59,49.13 L709.25,50.48 L709.81,51.88 L710.30,53.30 L710.72,54.74 L711.09,56.20 L711.39,57.68 L711.67,59.16 L711.91,60.64 L712.15,62.13 L712.39,63.61 L712.62,65.10 L712.85,66.59 L713.08,68.07 L713.30,69.56 L713.53,71.05 L713.75,72.54 L713.98,74.02 L714.20,75.51 L714.42,77.00 L714.64,78.49 L714.86,79.98 L715.08,81.46 L715.30,82.95 L715.52,84.44 L715.74,85.93 L715.96,87.42 L716.18,88.91 L716.40,90.40 L716.62,91.88 L716.84,93.37 L717.06,94.86 L717.28,96.35 L717.50,97.84 L717.71,99.33 L717.93,100.82 L718.15,102.30 L718.36,103.79 L718.58,105.28 L718.80,106.77 L719.01,108.26 L719.23,109.75 L719.44,111.24 L719.65,112.73 L719.86,114.22 L720.08,115.71 L720.29,117.20 L720.50,118.69 L720.71,120.18 L720.92,121.67 L721.13,123.16 L721.34,124.65 L721.55,126.14 L721.76,127.63 L721.96,129.12 L722.17,130.61 L722.38,132.10 L722.59,133.59 L722.80,135.08 L723.01,136.57 L723.22,138.06 L723.43,139.55 L723.64,141.04 L723.85,142.53 L724.06,144.02 L724.28,145.50 L724.49,146.99 L724.70,148.48 L724.92,149.97 L725.13,151.46 L725.35,152.95 L725.57,154.44 L725.79,155.93 L726.01,157.42 L726.23,158.90 L726.45,160.39 L726.68,161.88 L726.90,163.37 L727.13,164.85 L727.36,166.34 L727.59,167.83 L727.82,169.32 L728.06,170.80 L728.29,172.29 L728.53,173.77 L728.77,175.26 L729.01,176.74 L729.26,178.23 L729.50,179.71 L729.75,181.20 L730.00,182.68 L730.25,184.16 L730.51,185.65 L730.77,187.13 L731.03,188.61 L731.29,190.09 L731.56,191.57 L731.83,193.05 L732.10,194.53 L732.38,196.01 L732.66,197.49 L732.94,198.97 L733.22,200.44 L733.51,201.92 L733.80,203.40 L734.10,204.87 L734.39,206.35 L734.69,207.82 L735.00,209.29 L735.31,210.77 L735.62,212.24 L735.94,213.71 L736.26,215.18 L736.58,216.65 L736.91,218.12 L737.25,219.58 L737.59,221.05 L737.94,222.51 L738.30,223.97 L738.66,225.43 L739.04,226.89 L739.42,228.35 L739.82,229.80 L740.23,231.25 L740.64,232.69 L741.08,234.13 L741.52,235.57 L741.98,237.00 L742.46,238.43 L742.94,239.85 L743.45,241.27 L743.97,242.68 L744.52,244.08 L745.08,245.48 L745.67,246.86 L746.28,248.24 L746.92,249.60 L747.59,250.94 L748.29,252.28 L749.02,253.59 L749.79,254.89 L750.58,256.16 L751.42,257.41 L752.29,258.64 L753.21,259.83 L754.16,261.00 L755.15,262.13 L756.19,263.22 L757.26,264.28 L758.36,265.31 L759.50,266.29 L760.66,267.24 L761.86,268.15 L763.09,269.02 L764.35,269.85 L765.63,270.63 L766.93,271.38 L768.26,272.09 L769.61,272.75 L770.98,273.37 L772.37,273.95 L773.78,274.48 L775.21,274.96 L776.64,275.40 L778.09,275.80 L779.56,276.16 L781.02,276.49 L782.50,276.78 L783.98,277.04 L785.47,277.27 L786.96,277.47 L788.45,277.66 L789.95,277.82 L791.45,277.97 L792.94,278.10 L794.44,278.22 L795.94,278.34 L797.45,278.44 L798.95,278.54 L800.45,278.64 L801.95,278.74 L803.45,278.84 L804.95,278.93 L806.45,279.02 L807.96,279.11 L809.46,279.19 L810.96,279.27 L812.46,279.35 L813.97,279.43 L815.47,279.51 L816.97,279.58 L818.47,279.65 L819.98,279.72 L821.48,279.79 L822.98,279.86 L824.49,279.92 L825.99,279.98 L827.49,280.04 L829.00,280.10 L830.50,280.15 L832.00,280.21 L833.51,280.26 L835.01,280.31 L836.51,280.36 L838.02,280.40 L839.52,280.45 L841.03,280.49 L842.53,280.53 L844.03,280.57 L845.54,280.61 L847.04,280.64 L848.55,280.68 L850.05,280.71 L851.56,280.74 L853.06,280.77 L854.56,280.80 L856.07,280.82 L857.57,280.85 L859.08,280.87 L860.58,280.90 L862.09,280.92 L863.59,280.94 L865.09,280.95 L866.60,280.97 L868.10,280.99 L869.61,281.00 L871.11,281.01 L872.62,281.03 L874.12,281.04 L875.63,281.05 L877.13,281.06 L878.64,281.06 L880.14,281.07 L881.64,281.08 L883.15,281.08 L884.65,281.09 L886.16,281.09 L887.66,281.09 L889.17,281.09 L890.67,281.09 L892.18,281.09 L893.68,281.09 L895.19,281.09 L896.69,281.09 L898.19,281.09 L899.70,281.08 L901.20,281.08 L902.71,281.07 L904.21,281.07 L905.72,281.06 L907.22,281.06 L908.73,281.05 L910.23,281.04 L911.74,281.03 L913.24,281.03 L914.75,281.02 L916.25,281.01 L917.75,281.00 L919.26,280.99 L920.76,280.98 L922.27,280.97 L923.77,280.96 L925.28,280.95 L926.78,280.94 L928.29,280.93 L929.79,280.92 L931.30,280.91 L932.80,280.90 L934.30,280.89 L935.81,280.88 L937.31,280.87 L938.82,280.86 L940.32,280.85 L941.83,280.84 L943.33,280.83 L944.84,280.83 L946.34,280.82 L947.84,280.81 L949.35,280.80 L950.85,280.79 L952.36,280.78 L953.86,280.78 L955.37,280.77 L956.87,280.77 L958.38,280.76 L959.88,280.75 L961.39,280.75 L962.89,280.75 L964.40,280.74 L965.90,280.74 L967.40,280.74 L968.91,280.74 L970.41,280.74 L971.92,280.74 L973.42,280.74 L974.93,280.74 L976.43,280.74 L977.94,280.75 L979.44,280.75 L980.95,280.76 L982.45,280.76 L983.95,280.77 L985.46,280.78 L986.96,280.79 L988.47,280.80 L989.97,280.81 L991.48,280.82 L992.98,280.84 L994.49,280.85 L995.99,280.87 L997.50,280.89 L999.00,280.90 L1000.50,280.92 L1002.01,280.95 L1003.51,280.97 L1005.02,280.99 L1006.52,281.02 L1008.03,281.05 L1009.53,281.08 L1011.03,281.11 L1012.54,281.14 L1014.04,281.17" fill="none" stroke="#4A4AC6" stroke-width="1.45" stroke-linejoin="round"/>
<path d="M791.45,277.97 L792.94,278.10 L794.44,278.22 L795.94,278.34 L797.45,278.44 L798.95,278.54 L800.45,278.64 L801.95,278.74 L803.45,278.84 L804.95,278.93 L806.45,279.02 L807.96,279.11 L809.46,279.19 L810.96,279.27 L812.46,279.35 L813.97,279.43 L815.47,279.51 L816.97,279.58 L818.47,279.65 L819.98,279.72 L821.48,279.79 L822.98,279.86 L824.49,279.92 L825.99,279.98 L827.49,280.04 L829.00,280.10 L830.50,280.15 L832.00,280.21 L833.51,280.26 L835.01,280.31 L836.51,280.36 L838.02,280.40 L839.52,280.45 L841.03,280.49 L842.53,280.53 L844.03,280.57 L845.54,280.61 L847.04,280.64 L848.55,280.68 L850.05,280.71 L851.56,280.74 L853.06,280.77 L854.56,280.80 L856.07,280.82 L857.57,280.85 L859.08,280.87 L860.58,280.90 L862.09,280.92 L863.59,280.94 L865.09,280.95 L866.60,280.97 L868.10,280.99 L869.61,281.00 L871.11,281.01 L872.62,281.03 L874.12,281.04 L875.63,281.05 L877.13,281.06 L878.64,281.06 L880.14,281.07 L881.64,281.08 L883.15,281.08 L884.65,281.09 L886.16,281.09 L887.66,281.09 L889.17,281.09 L890.67,281.09 L892.18,281.09 L893.68,281.09 L895.19,281.09 L896.69,281.09 L898.19,281.09 L899.70,281.08 L901.20,281.08 L902.71,281.07 L904.21,281.07 L905.72,281.06 L907.22,281.06 L908.73,281.05 L910.23,281.04 L911.74,281.03 L913.24,281.03 L914.75,281.02 L916.25,281.01 L917.75,281.00 L919.26,280.99 L920.76,280.98 L922.27,280.97 L923.77,280.96 L925.28,280.95 L926.78,280.94 L928.29,280.93 L929.79,280.92 L931.30,280.91 L932.80,280.90 L934.30,280.89 L935.81,280.88 L937.31,280.87 L938.82,280.86 L940.32,280.85 L941.83,280.84 L943.33,280.83 L944.84,280.83 L946.34,280.82 L947.84,280.81 L949.35,280.80 L950.85,280.79 L952.36,280.78 L953.86,280.78 L955.37,280.77 L956.87,280.77 L958.38,280.76 L959.88,280.75 L961.39,280.75 L962.89,280.75 L964.40,280.74 L965.90,280.74 L967.40,280.74 L968.91,280.74 L970.41,280.74 L971.92,280.74 L973.42,280.74 L974.93,280.74 L976.43,280.74 L977.94,280.75 L979.44,280.75 L980.95,280.76 L982.45,280.76 L983.95,280.77 L985.46,280.78 L986.96,280.79 L988.47,280.80 L989.97,280.81 L991.48,280.82 L992.98,280.84 L994.49,280.85 L995.99,280.87 L997.50,280.89 L999.00,280.90 L1000.50,280.92 L1002.01,280.95 L1003.51,280.97 L1005.02,280.99 L1006.52,281.02 L1008.03,281.05 L1009.53,281.08 L1011.03,281.11 L1012.54,281.14 L1014.04,281.17" fill="none" stroke="#2B2BA6" stroke-width="1.50" stroke-opacity="0.75"/>
<path d="M602.21,202.58 L603.34,201.59 L604.44,200.55 L605.51,199.49 L606.53,198.38 L607.53,197.25 L608.49,196.09 L609.42,194.90 L610.32,193.69 L611.19,192.46 L612.03,191.20 L612.84,189.93 L613.63,188.65 L614.40,187.35 L615.14,186.04 L615.86,184.71 L616.57,183.38 L617.25,182.04 L617.93,180.69 L618.59,179.33 L619.24,177.97 L619.88,176.61 L620.51,175.24 L621.14,173.87 L621.76,172.49 L622.39,171.12 L623.01,169.74 L623.63,168.37 L624.25,167.00 L624.88,165.62 L625.50,164.25 L626.12,162.87 L626.74,161.50 L627.35,160.12 L627.96,158.74 L628.57,157.36 L629.18,155.98 L629.78,154.60 L630.37,153.21 L630.96,151.83 L631.55,150.43 L632.13,149.04 L632.70,147.65 L633.26,146.25 L633.82,144.85 L634.37,143.44 L634.91,142.03 L635.44,140.62 L635.97,139.21 L636.50,137.80 L637.03,136.39 L637.59,134.98 L638.16,133.59 L638.76,132.20 L639.39,130.84 L640.06,129.49 L640.78,128.16 L641.55,126.86 L642.38,125.60 L643.26,124.38 L644.21,123.21 L645.22,122.09 L646.30,121.04 L647.48,120.09 L648.76,119.30 L650.18,118.80" fill="none" stroke="#008000" stroke-width="3.1" stroke-linecap="round" stroke-linejoin="round" stroke-dasharray="8.93 11.87 0.01 11.87" stroke-dashoffset="0.00"/>
<path d="M650.18,118.80 L651.68,118.78 L653.10,119.26 L654.41,120.01 L655.64,120.88 L656.81,121.84 L657.91,122.87 L658.94,123.97 L659.91,125.12 L660.83,126.32 L661.70,127.55 L662.51,128.82 L663.29,130.11 L664.04,131.42 L664.76,132.75 L665.45,134.09 L666.13,135.43 L666.79,136.79 L667.45,138.15 L668.10,139.51 L668.75,140.86 L669.41,142.22 L670.08,143.57 L670.76,144.92 L671.45,146.26 L672.16,147.59 L672.87,148.92 L673.59,150.25 L674.32,151.57 L675.06,152.88 L675.81,154.19 L676.57,155.50 L677.33,156.80 L678.10,158.09 L678.88,159.38 L679.67,160.67 L680.46,161.95 L681.26,163.23 L682.06,164.51 L682.87,165.78 L683.68,167.05 L684.50,168.32 L685.32,169.59 L686.14,170.85 L686.97,172.11 L687.80,173.37 L688.63,174.63 L689.46,175.89 L690.30,177.14 L691.13,178.40 L691.96,179.66 L692.80,180.91 L693.63,182.17 L694.47,183.43 L695.30,184.69 L696.13,185.95 L696.95,187.21 L697.78,188.47 L698.60,189.74 L699.42,191.00 L700.23,192.27 L701.04,193.55 L701.84,194.82 L702.64,196.10" fill="none" stroke="#008000" stroke-width="3.1" stroke-linecap="round" stroke-linejoin="round" stroke-dasharray="8.65 11.50 0.01 11.50" stroke-dashoffset="0.00"/>
<path d="M702.64,196.10 L703.44,197.38 L704.22,198.67 L705.00,199.96 L705.78,201.25 L706.55,202.55 L707.31,203.85 L708.06,205.16 L708.81,206.47 L709.56,207.78 L710.30,209.09 L711.05,210.40 L711.79,211.72 L712.53,213.03 L713.27,214.35 L714.01,215.66 L714.75,216.97 L715.50,218.28 L716.24,219.59 L717.00,220.90 L717.76,222.20 L718.52,223.50 L719.29,224.80 L720.07,226.09 L720.85,227.38 L721.65,228.66 L722.45,229.94 L723.27,231.21 L724.09,232.47 L724.93,233.72 L725.78,234.97 L726.65,236.20 L727.52,237.43 L728.42,238.64 L729.33,239.85 L730.25,241.04 L731.20,242.21 L732.16,243.38 L733.14,244.52 L734.14,245.65 L735.16,246.76 L736.20,247.86 L737.26,248.93 L738.34,249.98" fill="none" stroke="#008000" stroke-width="3.1" stroke-linecap="round" stroke-linejoin="round" stroke-dasharray="8.86 11.78 0.01 11.78" stroke-dashoffset="0.00"/>
<path d="M738.34,249.98 L739.44,251.01 L740.56,252.02 L741.70,253.00 L742.87,253.96 L744.05,254.90 L745.25,255.82 L746.46,256.71 L747.70,257.58 L748.95,258.42 L750.21,259.24 L751.49,260.04 L752.79,260.81 L754.10,261.56 L755.42,262.28 L756.76,262.98 L758.11,263.66 L759.47,264.31 L760.84,264.94 L762.22,265.54 L763.61,266.12 L765.02,266.67 L766.43,267.20 L767.85,267.70 L769.28,268.18 L770.72,268.63 L772.17,269.06 L773.62,269.46 L775.08,269.84 L776.54,270.20 L778.01,270.54 L779.49,270.86 L780.97,271.16 L782.45,271.44 L783.93,271.71 L785.42,271.96 L786.91,272.19 L788.40,272.41 L789.89,272.62 L791.39,272.81 L792.89,273.00 L794.39,273.17 L795.88,273.34 L797.38,273.50 L798.88,273.65 L800.39,273.79 L801.89,273.93 L803.39,274.06 L804.89,274.19 L806.40,274.32 L807.90,274.43 L809.40,274.55 L810.91,274.66 L812.41,274.76 L813.92,274.86 L815.42,274.96 L816.93,275.05 L818.43,275.14 L819.94,275.23 L821.45,275.31 L822.95,275.38 L824.46,275.45" fill="none" stroke="#008000" stroke-width="3.1" stroke-linecap="round" stroke-linejoin="round" stroke-dasharray="8.38 11.14 0.01 11.14" stroke-dashoffset="0.00"/>
<path d="M824.46,275.45 L825.96,275.52 L827.47,275.59 L828.98,275.65 L830.49,275.71 L831.99,275.76 L833.50,275.82 L835.01,275.87 L836.51,275.91 L838.02,275.96 L839.53,276.00 L841.04,276.04 L842.55,276.07 L844.05,276.11 L845.56,276.14 L847.07,276.17 L848.58,276.20 L850.08,276.23 L851.59,276.25 L853.10,276.27 L854.61,276.29 L856.12,276.31 L857.62,276.33 L859.13,276.35 L860.64,276.37 L862.15,276.38 L863.66,276.40 L865.17,276.41 L866.67,276.43 L868.18,276.44 L869.69,276.45 L871.20,276.46 L872.71,276.47 L874.21,276.49 L875.72,276.50 L877.23,276.51 L878.74,276.52 L880.25,276.53 L881.76,276.53 L883.26,276.54 L884.77,276.55" fill="none" stroke="#008000" stroke-width="3.1" stroke-linecap="round" stroke-linejoin="round" stroke-dasharray="8.24 10.96 0.01 10.96" stroke-dashoffset="0.00"/>
<path d="M884.77,276.55 L886.28,276.56 L887.79,276.57 L889.30,276.57 L890.80,276.58 L892.31,276.59 L893.82,276.59 L895.33,276.60 L896.84,276.60 L898.35,276.61 L899.85,276.61 L901.36,276.62 L902.87,276.62 L904.38,276.63 L905.89,276.63 L907.39,276.64 L908.90,276.64 L910.41,276.64 L911.92,276.65 L913.43,276.65 L914.94,276.65 L916.44,276.66 L917.95,276.66 L919.46,276.66 L920.97,276.67 L922.48,276.67 L923.98,276.67 L925.49,276.67 L927.00,276.68 L928.51,276.68 L930.02,276.68 L931.53,276.68 L933.03,276.68 L934.54,276.69 L936.05,276.69 L937.56,276.69 L939.07,276.69 L940.58,276.70 L942.08,276.70" fill="none" stroke="#008000" stroke-width="3.1" stroke-linecap="round" stroke-linejoin="round" stroke-dasharray="7.83 10.41 0.01 10.41" stroke-dashoffset="0.00"/>
<path d="M942.08,276.70 L943.59,276.70 L945.10,276.70 L946.61,276.71 L948.12,276.71 L949.62,276.71 L951.13,276.71 L952.64,276.72 L954.15,276.72 L955.66,276.72 L957.17,276.73 L958.67,276.73 L960.18,276.74 L961.69,276.74 L963.20,276.74 L964.71,276.75 L966.21,276.75 L967.72,276.76 L969.23,276.76 L970.74,276.77 L972.25,276.78 L973.76,276.78 L975.26,276.79 L976.77,276.80 L978.28,276.80 L979.79,276.81 L981.30,276.82 L982.80,276.83 L984.31,276.83 L985.82,276.84 L987.33,276.85 L988.84,276.86 L990.35,276.87 L991.85,276.88 L993.36,276.90 L994.87,276.91 L996.38,276.92" fill="none" stroke="#008000" stroke-width="3.1" stroke-linecap="round" stroke-linejoin="round" stroke-dasharray="7.42 9.86 0.01 9.86" stroke-dashoffset="0.00"/>
<path d="M996.38,276.92 L997.89,276.93 L999.39,276.94 L1000.90,276.96 L1002.41,276.97 L1003.92,276.99 L1005.43,277.00 L1006.94,277.02 L1008.44,277.03 L1009.95,277.05 L1011.46,277.07 L1012.97,277.09" fill="none" stroke="#008000" stroke-width="3.1" stroke-linecap="round" stroke-linejoin="round" stroke-dasharray="8.50 11.30 0.01 11.30" stroke-dashoffset="0.00"/>
<path d="M602.38,166.89 L603.87,167.09 L605.37,167.22 L606.88,167.28 L608.39,167.25 L609.89,167.14 L611.38,166.92 L612.85,166.59 L614.29,166.13 L615.68,165.55 L617.01,164.85 L618.28,164.04 L619.49,163.14 L620.64,162.16 L621.74,161.13 L622.78,160.04 L623.79,158.92 L624.75,157.76 L625.69,156.58 L626.60,155.37 L627.48,154.15 L628.33,152.91 L629.16,151.65 L629.97,150.38 L630.76,149.09 L631.54,147.80 L632.30,146.50 L633.05,145.19" fill="none" stroke="#FF00FF" stroke-width="3" stroke-linecap="round" stroke-linejoin="round" stroke-dasharray="8.87 11.48" stroke-dashoffset="0.00"/>
<path d="M633.05,145.19 L633.79,143.87 L634.52,142.56 L635.25,141.24 L635.98,139.92 L636.71,138.60 L637.44,137.28 L638.19,135.97 L638.94,134.66 L639.70,133.36 L640.48,132.07 L641.28,130.80 L642.10,129.53 L642.94,128.27 L643.79,127.03 L644.65,125.79 L645.53,124.57 L646.41,123.34 L647.29,122.12 L648.18,120.91 L649.12,119.73 L650.14,118.61 L651.26,117.61 L652.54,116.82 L653.98,116.36 L655.48,116.26 L656.97,116.47 L658.41,116.92 L659.77,117.55" fill="none" stroke="#FF00FF" stroke-width="3" stroke-linecap="round" stroke-linejoin="round" stroke-dasharray="9.20 11.90" stroke-dashoffset="0.00"/>
<path d="M659.77,117.55 L661.05,118.35 L662.24,119.28 L663.32,120.32 L664.32,121.46 L665.23,122.66 L666.07,123.91 L666.84,125.20 L667.56,126.53 L668.23,127.88 L668.87,129.25 L669.48,130.63 L670.06,132.01 L670.64,133.41 L671.21,134.80 L671.78,136.20 L672.35,137.59 L672.93,138.99 L673.50,140.38 L674.07,141.78 L674.65,143.17 L675.22,144.57 L675.80,145.96 L676.38,147.35 L676.97,148.74 L677.56,150.13 L678.15,151.51 L678.76,152.89 L679.38,154.27 L680.00,155.64 L680.65,157.00 L681.31,158.36 L681.99,159.70 L682.68,161.04 L683.37,162.38 L684.01,163.75 L684.58,165.15 L685.10,166.56 L685.58,167.99 L686.06,169.42 L686.55,170.84" fill="none" stroke="#FF00FF" stroke-width="3" stroke-linecap="round" stroke-linejoin="round" stroke-dasharray="8.76 11.34" stroke-dashoffset="0.00"/>
<path d="M686.55,170.84 L687.07,172.26 L687.62,173.66 L688.20,175.05 L688.81,176.43 L689.45,177.80 L690.11,179.16 L690.79,180.50 L691.49,181.84 L692.21,183.16 L692.94,184.48 L693.70,185.78 L694.46,187.08 L695.24,188.37 L696.03,189.66 L696.83,190.94 L697.63,192.21 L698.45,193.48 L699.26,194.75 L700.08,196.02 L700.90,197.28 L701.73,198.54 L702.55,199.81 L703.37,201.07 L704.19,202.34 L705.00,203.61 L705.82,204.87 L706.64,206.14 L707.46,207.41 L708.28,208.67 L709.10,209.94 L709.92,211.20 L710.75,212.46 L711.58,213.72 L712.42,214.97 L713.26,216.23 L714.10,217.48" fill="none" stroke="#FF00FF" stroke-width="3" stroke-linecap="round" stroke-linejoin="round" stroke-dasharray="7.89 10.21" stroke-dashoffset="0.00"/>
<path d="M714.10,217.48 L714.95,218.72 L715.81,219.96 L716.67,221.20 L717.54,222.43 L718.42,223.66 L719.30,224.88 L720.20,226.09 L721.10,227.30 L722.01,228.50 L722.92,229.70 L723.84,230.89 L724.77,232.08 L725.69,233.28 L726.62,234.47 L727.54,235.66 L728.46,236.85 L729.38,238.05 L730.29,239.25 L731.20,240.45 L732.10,241.67 L732.99,242.88 L733.89,244.09 L734.79,245.30 L735.71,246.49 L736.64,247.68 L737.60,248.84 L738.58,249.98 L739.60,251.10 L740.65,252.18 L741.73,253.23 L742.85,254.24 L743.99,255.22 L745.17,256.17 L746.37,257.08 L747.59,257.96" fill="none" stroke="#FF00FF" stroke-width="3" stroke-linecap="round" stroke-linejoin="round" stroke-dasharray="7.67 9.92" stroke-dashoffset="0.00"/>
<path d="M747.59,257.96 L748.84,258.81 L750.11,259.62 L751.40,260.40 L752.71,261.16 L754.03,261.88 L755.37,262.57 L756.72,263.24 L758.09,263.87 L759.47,264.49 L760.86,265.07 L762.26,265.63 L763.67,266.16 L765.09,266.68 L766.51,267.16 L767.95,267.63 L769.39,268.07 L770.83,268.49 L772.29,268.89 L773.75,269.28 L775.21,269.64 L776.68,269.98 L778.15,270.31 L779.63,270.62 L781.10,270.92 L782.59,271.20" fill="none" stroke="#FF00FF" stroke-width="3" stroke-linecap="round" stroke-linejoin="round" stroke-dasharray="8.22 10.63" stroke-dashoffset="0.00"/>
<path d="M782.59,271.20 L784.07,271.46 L785.56,271.71 L787.04,271.96 L788.53,272.18 L790.03,272.40 L791.52,272.61 L793.01,272.81 L794.51,273.00 L796.01,273.18 L797.50,273.36 L799.00,273.53 L800.50,273.69 L802.00,273.85 L803.50,274.00 L805.00,274.15 L806.50,274.29 L808.00,274.42 L809.51,274.55 L811.01,274.68 L812.51,274.80 L814.02,274.91 L815.52,275.02 L817.02,275.12 L818.53,275.22" fill="none" stroke="#FF00FF" stroke-width="3" stroke-linecap="round" stroke-linejoin="round" stroke-dasharray="7.89 10.21" stroke-dashoffset="0.00"/>
<path d="M818.53,275.22 L820.03,275.32 L821.54,275.41 L823.04,275.49 L824.55,275.57 L826.06,275.65 L827.56,275.73 L829.07,275.80 L830.57,275.86 L832.08,275.93 L833.59,275.99 L835.09,276.04 L836.60,276.10 L838.11,276.15 L839.61,276.19 L841.12,276.24 L842.63,276.28 L844.14,276.32 L845.64,276.36 L847.15,276.40 L848.66,276.43 L850.17,276.46 L851.67,276.49 L853.18,276.52 L854.69,276.55 L856.20,276.57 L857.70,276.60" fill="none" stroke="#FF00FF" stroke-width="3" stroke-linecap="round" stroke-linejoin="round" stroke-dasharray="8.54 11.06" stroke-dashoffset="0.00"/>
<path d="M857.70,276.60 L859.21,276.62 L860.72,276.64 L862.23,276.66 L863.73,276.69 L865.24,276.71 L866.75,276.72 L868.26,276.74 L869.76,276.76 L871.27,276.78 L872.78,276.79 L874.29,276.81 L875.79,276.83 L877.30,276.84 L878.81,276.85 L880.32,276.87 L881.83,276.88 L883.33,276.89 L884.84,276.90 L886.35,276.91 L887.86,276.92 L889.36,276.93 L890.87,276.94 L892.38,276.95 L893.89,276.96" fill="none" stroke="#FF00FF" stroke-width="3" stroke-linecap="round" stroke-linejoin="round" stroke-dasharray="7.89 10.21" stroke-dashoffset="0.00"/>
<path d="M893.89,276.96 L895.40,276.97 L896.90,276.98 L898.41,276.98 L899.92,276.99 L901.43,276.99 L902.93,277.00 L904.44,277.01 L905.95,277.01 L907.46,277.01 L908.97,277.02 L910.47,277.02 L911.98,277.02 L913.49,277.03" fill="none" stroke="#FF00FF" stroke-width="3" stroke-linecap="round" stroke-linejoin="round" stroke-dasharray="8.54 11.06" stroke-dashoffset="0.00"/>
<path d="M913.49,277.03 L915.00,277.03 L916.50,277.03 L918.01,277.03 L919.52,277.03 L921.03,277.04 L922.54,277.04 L924.04,277.04 L925.55,277.04 L927.06,277.04 L928.57,277.04 L930.07,277.04 L931.58,277.04 L933.09,277.04 L934.60,277.03 L936.11,277.03 L937.61,277.03 L939.12,277.03 L940.63,277.03 L942.14,277.03 L943.64,277.02 L945.15,277.02 L946.66,277.02 L948.17,277.02 L949.67,277.02 L951.18,277.01 L952.69,277.01" fill="none" stroke="#FF00FF" stroke-width="3" stroke-linecap="round" stroke-linejoin="round" stroke-dasharray="8.54 11.06" stroke-dashoffset="0.00"/>
<path d="M952.69,277.01 L954.20,277.01 L955.71,277.01 L957.21,277.01 L958.72,277.00 L960.23,277.00 L961.74,277.00 L963.24,277.00 L964.75,276.99 L966.26,276.99 L967.77,276.99 L969.28,276.99 L970.78,276.99 L972.29,276.98 L973.80,276.98 L975.31,276.98 L976.81,276.98 L978.32,276.98 L979.83,276.98 L981.34,276.98 L982.85,276.98 L984.35,276.98 L985.86,276.98 L987.37,276.98 L988.88,276.98 L990.38,276.98 L991.89,276.98" fill="none" stroke="#FF00FF" stroke-width="3" stroke-linecap="round" stroke-linejoin="round" stroke-dasharray="8.54 11.06" stroke-dashoffset="0.00"/>
<path d="M991.89,276.98 L993.40,276.98 L994.91,276.98 L996.42,276.98 L997.92,276.99 L999.43,276.99 L1000.94,276.99 L1002.45,277.00 L1003.95,277.00 L1005.46,277.00 L1006.97,277.01 L1008.48,277.01 L1009.99,277.02 L1011.49,277.02 L1013.00,277.03" fill="none" stroke="#FF00FF" stroke-width="3" stroke-linecap="round" stroke-linejoin="round" stroke-dasharray="8.50 11.00" stroke-dashoffset="0.00"/>
<path d="M602.00,262.39 L603.51,262.28 L605.01,262.14 L606.51,261.96 L608.00,261.75 L609.49,261.51 L610.97,261.22 L612.44,260.91 L613.91,260.55 L615.37,260.16 L616.81,259.74 L618.25,259.27 L619.67,258.78 L621.08,258.25 L622.48,257.68 L623.86,257.08 L625.23,256.45 L626.59,255.78 L627.93,255.09 L629.25,254.36 L630.55,253.61 L631.84,252.82 L633.11,252.01 L634.37,251.18 L635.61,250.31 L636.83,249.43 L638.03,248.52 L639.22,247.59 L640.39,246.64 L641.55,245.67 L642.69,244.69 L643.81,243.68 L644.92,242.66 L646.02,241.62 L647.10,240.57 L648.17,239.51 L649.22,238.43 L650.26,237.34 L651.29,236.24 L652.31,235.13 L653.32,234.01 L654.32,232.88 L655.31,231.74 L656.29,230.60 L657.27,229.44 L658.23,228.28 L659.19,227.12 L660.14,225.95 L661.08,224.77 L662.02,223.59 L662.96,222.41 L663.88,221.22 L664.81,220.03 L665.73,218.84 L666.65,217.64 L667.57,216.45 L668.49,215.25 L669.40,214.05 L670.32,212.85 L671.24,211.65 L672.15,210.46 L673.07,209.26 L673.99,208.07 L674.91,206.87 L675.84,205.68 L676.77,204.49 L677.70,203.31 L678.64,202.13 L679.58,200.95 L680.53,199.78 L681.50,198.62 L682.48,197.48 L683.51,196.37 L684.58,195.31 L685.71,194.31 L686.91,193.40 L688.18,192.60 L689.54,191.93 L690.96,191.43 L692.43,191.09 L693.92,190.94 L695.43,190.97 L696.92,191.19 L698.37,191.60 L699.78,192.15 L701.14,192.80 L702.47,193.51 L703.77,194.27 L705.04,195.08 L706.28,195.94 L707.50,196.83 L708.68,197.76 L709.85,198.72 L710.99,199.71 L712.11,200.71 L713.22,201.74 L714.31,202.78 L715.38,203.84 L716.45,204.90 L717.51,205.98 L718.57,207.05 L719.62,208.13 L720.67,209.21 L721.73,210.29 L722.79,211.36 L723.86,212.42 L724.94,213.47 L726.04,214.51 L727.14,215.54 L728.26,216.55 L729.39,217.55 L730.53,218.53 L731.68,219.51 L732.84,220.48 L734.00,221.43 L735.17,222.39 L736.35,223.33 L737.53,224.27 L738.71,225.21 L739.89,226.14 L741.08,227.08 L742.26,228.01 L743.44,228.95 L744.62,229.89 L745.80,230.83 L746.97,231.78 L748.14,232.73 L749.31,233.69 L750.48,234.64 L751.65,235.59 L752.82,236.53 L754.00,237.47 L755.19,238.40 L756.39,239.31 L757.60,240.22 L758.82,241.10 L760.06,241.97 L761.31,242.81 L762.57,243.63 L763.86,244.42 L765.16,245.18 L766.48,245.90 L767.82,246.60 L769.18,247.25 L770.55,247.88 L771.94,248.48 L773.34,249.04 L774.75,249.57 L776.17,250.07 L777.60,250.54 L779.05,250.98 L780.50,251.39 L781.95,251.78 L783.42,252.14 L784.89,252.47 L786.37,252.78 L787.85,253.06 L789.33,253.32 L790.82,253.56 L792.31,253.78 L793.81,253.99 L795.30,254.17 L796.80,254.33 L798.30,254.48 L799.81,254.61 L801.31,254.73 L802.81,254.84 L804.32,254.93 L805.83,255.01 L807.33,255.08 L808.84,255.14 L810.35,255.19 L811.85,255.23 L813.36,255.27 L814.87,255.30 L816.38,255.32 L817.88,255.35 L819.39,255.36 L820.90,255.38 L822.41,255.39 L823.92,255.40 L825.42,255.41 L826.93,255.42 L828.44,255.43 L829.95,255.44 L831.46,255.45 L832.96,255.46 L834.47,255.48 L835.98,255.49 L837.49,255.50 L839.00,255.51 L840.50,255.52 L842.01,255.54 L843.52,255.55 L845.03,255.56 L846.54,255.57 L848.05,255.59 L849.55,255.60 L851.06,255.61 L852.57,255.62 L854.08,255.64 L855.59,255.65 L857.09,255.66 L858.60,255.67 L860.11,255.68 L861.62,255.70 L863.13,255.71 L864.63,255.72 L866.14,255.73 L867.65,255.74 L869.16,255.75 L870.67,255.76 L872.17,255.77 L873.68,255.78 L875.19,255.79 L876.70,255.80 L878.21,255.80 L879.71,255.81 L881.22,255.82 L882.73,255.82 L884.24,255.83 L885.75,255.84 L887.25,255.84 L888.76,255.85 L890.27,255.85 L891.78,255.85 L893.29,255.86 L894.79,255.86 L896.30,255.86 L897.81,255.86 L899.32,255.86 L900.83,255.87 L902.33,255.87 L903.84,255.87 L905.35,255.87 L906.86,255.87 L908.37,255.87 L909.88,255.87 L911.38,255.87 L912.89,255.86 L914.40,255.86 L915.91,255.86 L917.42,255.86 L918.92,255.86 L920.43,255.86 L921.94,255.85 L923.45,255.85 L924.96,255.85 L926.46,255.85 L927.97,255.84 L929.48,255.84 L930.99,255.84 L932.50,255.83 L934.00,255.83 L935.51,255.83 L937.02,255.82 L938.53,255.82 L940.04,255.82 L941.54,255.81 L943.05,255.81 L944.56,255.80 L946.07,255.80 L947.58,255.80 L949.09,255.79 L950.59,255.79 L952.10,255.79 L953.61,255.78 L955.12,255.78 L956.63,255.78 L958.13,255.77 L959.64,255.77 L961.15,255.77 L962.66,255.77 L964.17,255.76 L965.67,255.76 L967.18,255.76 L968.69,255.76 L970.20,255.76 L971.71,255.76 L973.21,255.76 L974.72,255.75 L976.23,255.75 L977.74,255.75 L979.25,255.75 L980.75,255.75 L982.26,255.76 L983.77,255.76 L985.28,255.76 L986.79,255.76 L988.30,255.76 L989.80,255.76 L991.31,255.77 L992.82,255.77 L994.33,255.77 L995.84,255.78 L997.34,255.78 L998.85,255.79 L1000.36,255.79 L1001.87,255.80 L1003.38,255.81 L1004.88,255.81 L1006.39,255.82 L1007.90,255.83 L1009.41,255.84 L1010.92,255.85 L1012.42,255.86 L1013.93,255.87" fill="none" stroke="#FF0000" stroke-width="3.4" stroke-linecap="round" stroke-linejoin="round"/>
<path d="M363.0,78.3 H397.3" stroke="#4A4AC6" stroke-width="1.3" stroke-linecap="butt"/>
<path d="M363.9,106.1 H372.4" stroke="#FF00FF" stroke-width="3.0" stroke-linecap="round"/>
<path d="M384.7,106.1 H393.6" stroke="#FF00FF" stroke-width="3.0" stroke-linecap="round"/>
<path d="M363.9,133.4 H372.4" stroke="#008000" stroke-width="3.1" stroke-linecap="round"/>
<circle cx="384.5" cy="133.4" r="1.6" fill="#008000"/>
<circle cx="396.8" cy="133.4" r="1.6" fill="#008000"/>
<path d="M364.1,160.9 H397.3" stroke="#FF0000" stroke-width="3.2" stroke-linecap="round"/>
<path d="M887.8,73.6 H921.0" stroke="#4A4AC6" stroke-width="1.3" stroke-linecap="butt"/>
<path d="M888.2,98.0 H897.2" stroke="#008000" stroke-width="3.1" stroke-linecap="round"/>
<circle cx="908.9" cy="98.0" r="1.6" fill="#008000"/>
<path d="M888.5,121.5 H897.2" stroke="#FF00FF" stroke-width="3.0" stroke-linecap="round"/>
<path d="M909.0,121.5 H917.7" stroke="#FF00FF" stroke-width="3.0" stroke-linecap="round"/>
<path d="M888.4,146.2 H920.7" stroke="#FF0000" stroke-width="3.2" stroke-linecap="round"/>
<text transform="translate(43.661,290.473) scale(0.9158,1.0127)" style="font-family:'Liberation Sans',sans-serif;font-weight:normal;font-size:14px;letter-spacing:0.4px" fill="#1a1a1a">0</text>
<text transform="translate(564.108,287.122) scale(0.9368,1.0228)" style="font-family:'Liberation Sans',sans-serif;font-weight:normal;font-size:14px;letter-spacing:0.4px" fill="#1a1a1a">0</text>
<text transform="translate(32.442,229.473) scale(0.9158,1.0127)" style="font-family:'Liberation Sans',sans-serif;font-weight:normal;font-size:14px;letter-spacing:0.4px" fill="#1a1a1a">0.2</text>
<text transform="translate(552.632,228.122) scale(0.9368,1.0228)" style="font-family:'Liberation Sans',sans-serif;font-weight:normal;font-size:14px;letter-spacing:0.4px" fill="#1a1a1a">0.2</text>
<text transform="translate(32.099,169.473) scale(0.9158,1.0127)" style="font-family:'Liberation Sans',sans-serif;font-weight:normal;font-size:14px;letter-spacing:0.4px" fill="#1a1a1a">0.4</text>
<text transform="translate(552.280,169.122) scale(0.9368,1.0228)" style="font-family:'Liberation Sans',sans-serif;font-weight:normal;font-size:14px;letter-spacing:0.4px" fill="#1a1a1a">0.4</text>
<text transform="translate(32.328,108.473) scale(0.9158,1.0127)" style="font-family:'Liberation Sans',sans-serif;font-weight:normal;font-size:14px;letter-spacing:0.4px" fill="#1a1a1a">0.6</text>
<text transform="translate(552.514,110.122) scale(0.9368,1.0228)" style="font-family:'Liberation Sans',sans-serif;font-weight:normal;font-size:14px;letter-spacing:0.4px" fill="#1a1a1a">0.6</text>
<text transform="translate(32.328,48.473) scale(0.9158,1.0127)" style="font-family:'Liberation Sans',sans-serif;font-weight:normal;font-size:14px;letter-spacing:0.4px" fill="#1a1a1a">0.8</text>
<text transform="translate(552.514,51.122) scale(0.9368,1.0228)" style="font-family:'Liberation Sans',sans-serif;font-weight:normal;font-size:14px;letter-spacing:0.4px" fill="#1a1a1a">0.8</text>
<text transform="translate(55.069,306.473) scale(0.8844,1.0127)" style="font-family:'Liberation Sans',sans-serif;font-weight:normal;font-size:14px;letter-spacing:0.4px" fill="#1a1a1a">25</text>
<text transform="translate(576.213,302.375) scale(0.8667,1.0025)" style="font-family:'Liberation Sans',sans-serif;font-weight:normal;font-size:14px;letter-spacing:0.4px" fill="#1a1a1a">25</text>
<text transform="translate(133.569,306.347) scale(0.8844,1.0127)" style="font-family:'Liberation Sans',sans-serif;font-weight:normal;font-size:14px;letter-spacing:0.4px" fill="#1a1a1a">75</text>
<text transform="translate(655.213,302.249) scale(0.8667,1.0025)" style="font-family:'Liberation Sans',sans-serif;font-weight:normal;font-size:14px;letter-spacing:0.4px" fill="#1a1a1a">75</text>
<text transform="translate(209.555,306.473) scale(0.8844,1.0127)" style="font-family:'Liberation Sans',sans-serif;font-weight:normal;font-size:14px;letter-spacing:0.4px" fill="#1a1a1a">125</text>
<text transform="translate(730.475,302.375) scale(0.8667,1.0025)" style="font-family:'Liberation Sans',sans-serif;font-weight:normal;font-size:14px;letter-spacing:0.4px" fill="#1a1a1a">125</text>
<text transform="translate(289.255,306.347) scale(0.8844,1.0127)" style="font-family:'Liberation Sans',sans-serif;font-weight:normal;font-size:14px;letter-spacing:0.4px" fill="#1a1a1a">175</text>
<text transform="translate(810.175,302.249) scale(0.8667,1.0025)" style="font-family:'Liberation Sans',sans-serif;font-weight:normal;font-size:14px;letter-spacing:0.4px" fill="#1a1a1a">175</text>
<text transform="translate(368.421,306.473) scale(0.8844,1.0127)" style="font-family:'Liberation Sans',sans-serif;font-weight:normal;font-size:14px;letter-spacing:0.4px" fill="#1a1a1a">225</text>
<text transform="translate(889.838,302.375) scale(0.8667,1.0025)" style="font-family:'Liberation Sans',sans-serif;font-weight:normal;font-size:14px;letter-spacing:0.4px" fill="#1a1a1a">225</text>
<text transform="translate(448.021,306.473) scale(0.8844,1.0127)" style="font-family:'Liberation Sans',sans-serif;font-weight:normal;font-size:14px;letter-spacing:0.4px" fill="#1a1a1a">275</text>
<text transform="translate(968.638,302.375) scale(0.8667,1.0025)" style="font-family:'Liberation Sans',sans-serif;font-weight:normal;font-size:14px;letter-spacing:0.4px" fill="#1a1a1a">275</text>
<text transform="translate(253.587,25.633) scale(1.0256,1.0311)" style="font-family:'Liberation Sans',sans-serif;font-weight:bold;font-size:18px" fill="#000">a)</text>
<text transform="translate(802.555,23.833) scale(1.0756,1.0311)" style="font-family:'Liberation Sans',sans-serif;font-weight:bold;font-size:18px" fill="#000">b)</text>
<text transform="translate(21.983,198.502) rotate(-90) scale(0.8146,0.9366)" style="font-family:'Liberation Sans',sans-serif;font-weight:bold;font-size:14px;letter-spacing:0.8px" fill="#000">Tan Delta</text>
<text transform="translate(540.877,179.304) rotate(-90) scale(0.8330,0.9854)" style="font-family:'Liberation Sans',sans-serif;font-weight:bold;font-size:14px;letter-spacing:0.8px" fill="#000">Tan delta</text>
<text transform="translate(226.389,322.012) scale(0.8898,1.0500)" style="font-family:'Liberation Sans',sans-serif;font-weight:bold;font-size:13.5px;letter-spacing:0.8px" fill="#000">Temp</text>
<text transform="translate(263.965,322.150) scale(0.8554,1.0000)" style="font-family:'Liberation Sans',sans-serif;font-weight:bold;font-size:13.5px;letter-spacing:0.8px" fill="#000">(°C)</text>
<text transform="translate(750.686,320.967) scale(0.9088,1.0667)" style="font-family:'Liberation Sans',sans-serif;font-weight:bold;font-size:13.5px;letter-spacing:0.8px" fill="#000">Temp</text>
<text transform="translate(788.883,321.106) scale(0.8277,1.0160)" style="font-family:'Liberation Sans',sans-serif;font-weight:bold;font-size:13.5px;letter-spacing:0.8px" fill="#000">(°C)</text>
<text transform="translate(403.831,83.769) scale(0.8919,1.0453)" style="font-family:'Liberation Sans',sans-serif;font-weight:bold;font-size:13.5px;letter-spacing:0.9px" fill="#000">UP</text>
<text transform="translate(400.270,110.948) scale(0.8473,1.0100)" style="font-family:'Liberation Sans',sans-serif;font-weight:bold;font-size:13.5px;letter-spacing:0.9px" fill="#000">70/30 UP/FL</text>
<text transform="translate(400.376,138.550) scale(0.8484,1.0000)" style="font-family:'Liberation Sans',sans-serif;font-weight:bold;font-size:13.5px;letter-spacing:0.9px" fill="#000">50/50 UP/FL</text>
<text transform="translate(400.951,166.400) scale(0.8558,1.0595)" style="font-family:'Liberation Sans',sans-serif;font-weight:bold;font-size:13.5px;letter-spacing:0.9px" fill="#000">FL</text>
<text transform="translate(925.227,78.867) scale(0.8973,1.0667)" style="font-family:'Liberation Sans',sans-serif;font-weight:bold;font-size:13.5px;letter-spacing:0.9px" fill="#000">UP</text>
<text transform="translate(924.675,102.547) scale(0.8501,1.0100)" style="font-family:'Liberation Sans',sans-serif;font-weight:bold;font-size:13.5px;letter-spacing:0.9px" fill="#000">50/50 UP/FB</text>
<text transform="translate(924.568,126.752) scale(0.8513,0.9900)" style="font-family:'Liberation Sans',sans-serif;font-weight:bold;font-size:13.5px;letter-spacing:0.9px" fill="#000">70/30 UP/FB</text>
<text transform="translate(925.335,151.600) scale(0.8748,1.0486)" style="font-family:'Liberation Sans',sans-serif;font-weight:bold;font-size:13.5px;letter-spacing:0.9px" fill="#000">FB</text>
</svg>
</body></html>
